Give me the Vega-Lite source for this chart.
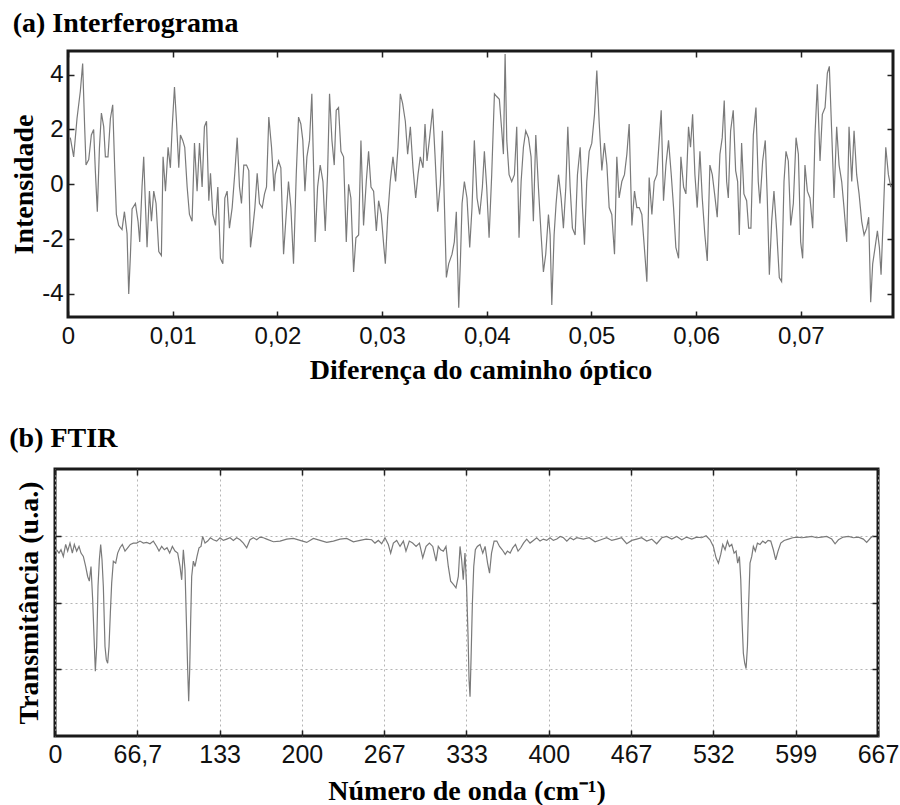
{
  "$schema": "https://vega.github.io/schema/vega-lite/v6.json",
  "background": "white",
  "padding": {"left": 7, "top": 9, "right": 0, "bottom": 0},
  "spacing": 39,
  "config": {
    "view": {"stroke": "#1a1a1a", "strokeWidth": 3},
    "axis": {
      "domain": false, "grid": false, "minExtent": 0, "labelFlush": false,
      "labelFont": "Liberation Sans", "labelFontSize": 24, "labelColor": "#111",
      "titleFont": "Liberation Serif", "titleFontSize": 28, "titleFontWeight": "bold", "titleColor": "#000",
      "tickColor": "#222", "tickWidth": 1.5
    },
    "title": {"font": "Liberation Serif", "fontSize": 28, "fontWeight": "bold", "color": "#000", "anchor": "start", "frame": "bounds"}
  },
  "vconcat": [
    {
      "width": 838, "height": 266,
      "view": {"stroke": null},
      "title": {"text": "(a) Interferograma", "offset": 12, "dx": 2},
      "data": {"values": [
        {"x":0.00022,"y":1.7},{"x":0.00054,"y":1.0},{"x":0.00086,"y":2.4},{"x":0.00118,"y":3.4},{"x":0.00140,"y":4.4},{"x":0.00159,"y":2.1},{"x":0.00172,"y":0.7},{"x":0.00198,"y":0.9},{"x":0.00223,"y":1.8},{"x":0.00245,"y":2.0},{"x":0.00261,"y":0.5},{"x":0.00280,"y":-1.0},{"x":0.00300,"y":1.3},{"x":0.00319,"y":2.6},{"x":0.00341,"y":2.1},{"x":0.00357,"y":1.0},{"x":0.00382,"y":1.0},{"x":0.00405,"y":2.4},{"x":0.00427,"y":2.9},{"x":0.00446,"y":0.6},{"x":0.00462,"y":-1.1},{"x":0.00484,"y":-1.5},{"x":0.00516,"y":-1.65},{"x":0.00539,"y":-1.0},{"x":0.00564,"y":-1.8},{"x":0.00580,"y":-4.0},{"x":0.00596,"y":-2.6},{"x":0.00612,"y":-0.9},{"x":0.00644,"y":-0.7},{"x":0.00669,"y":-1.35},{"x":0.00685,"y":-2.1},{"x":0.00707,"y":-0.1},{"x":0.00723,"y":1.0},{"x":0.00739,"y":-0.7},{"x":0.00755,"y":-2.3},{"x":0.00778,"y":-0.25},{"x":0.00797,"y":-1.35},{"x":0.00819,"y":-0.25},{"x":0.00841,"y":-0.7},{"x":0.00867,"y":-2.45},{"x":0.00892,"y":-2.6},{"x":0.00908,"y":1.0},{"x":0.00931,"y":-0.25},{"x":0.00956,"y":1.35},{"x":0.00978,"y":0.6},{"x":0.00994,"y":2.0},{"x":0.01017,"y":3.55},{"x":0.01036,"y":2.3},{"x":0.01058,"y":0.6},{"x":0.01074,"y":1.8},{"x":0.01096,"y":1.6},{"x":0.01115,"y":1.35},{"x":0.01138,"y":-0.1},{"x":0.01160,"y":-1.1},{"x":0.01185,"y":-1.35},{"x":0.01208,"y":1.5},{"x":0.01233,"y":-0.25},{"x":0.01256,"y":1.5},{"x":0.01281,"y":-0.1},{"x":0.01303,"y":2.1},{"x":0.01323,"y":2.3},{"x":0.01345,"y":-0.6},{"x":0.01361,"y":0.4},{"x":0.01383,"y":-1.1},{"x":0.01409,"y":-1.5},{"x":0.01431,"y":-0.1},{"x":0.01456,"y":-2.7},{"x":0.01479,"y":-2.9},{"x":0.01498,"y":-0.5},{"x":0.01520,"y":-0.25},{"x":0.01542,"y":-1.6},{"x":0.01568,"y":-0.85},{"x":0.01593,"y":0.4},{"x":0.01616,"y":1.7},{"x":0.01638,"y":-0.1},{"x":0.01657,"y":-0.7},{"x":0.01679,"y":0.7},{"x":0.01705,"y":0.7},{"x":0.01727,"y":0.5},{"x":0.01743,"y":-2.3},{"x":0.01765,"y":-1.6},{"x":0.01785,"y":-0.85},{"x":0.01807,"y":0.4},{"x":0.01829,"y":-0.7},{"x":0.01855,"y":-0.85},{"x":0.01877,"y":-0.35},{"x":0.01896,"y":-0.1},{"x":0.01918,"y":2.45},{"x":0.01944,"y":1.35},{"x":0.01969,"y":-0.25},
        {"x":0.01979,"y":0.35},{"x":0.02011,"y":0.85},{"x":0.02033,"y":0.6},{"x":0.02059,"y":-2.55},{"x":0.02084,"y":-1.1},{"x":0.02106,"y":0.1},{"x":0.02129,"y":-0.85},{"x":0.02154,"y":-2.9},{"x":0.02180,"y":0.35},{"x":0.02202,"y":2.45},{"x":0.02224,"y":2.2},{"x":0.02243,"y":1.6},{"x":0.02263,"y":-0.25},{"x":0.02282,"y":1.0},{"x":0.02307,"y":1.6},{"x":0.02329,"y":3.3},{"x":0.02345,"y":0.7},{"x":0.02361,"y":-2.1},{"x":0.02384,"y":-0.1},{"x":0.02409,"y":0.7},{"x":0.02435,"y":0.1},{"x":0.02457,"y":-1.7},{"x":0.02479,"y":0.35},{"x":0.02498,"y":3.3},{"x":0.02521,"y":1.6},{"x":0.02543,"y":0.7},{"x":0.02562,"y":2.7},{"x":0.02584,"y":2.8},{"x":0.02607,"y":1.2},{"x":0.02632,"y":1.0},{"x":0.02658,"y":-2.1},{"x":0.02680,"y":0.0},{"x":0.02702,"y":-0.5},{"x":0.02728,"y":-3.2},{"x":0.02750,"y":-1.95},{"x":0.02776,"y":-1.85},{"x":0.02798,"y":1.6},{"x":0.02823,"y":-1.5},{"x":0.02849,"y":0.1},{"x":0.02871,"y":1.2},{"x":0.02894,"y":-0.1},{"x":0.02919,"y":-0.25},{"x":0.02945,"y":-1.7},{"x":0.02967,"y":-0.6},{"x":0.02992,"y":-1.1},{"x":0.03015,"y":-2.2},{"x":0.03031,"y":-2.9},{"x":0.03053,"y":-1.2},{"x":0.03078,"y":0.1},{"x":0.03104,"y":1.0},{"x":0.03129,"y":0.1},{"x":0.03152,"y":1.35},{"x":0.03174,"y":3.3},{"x":0.03196,"y":2.95},{"x":0.03222,"y":2.3},{"x":0.03244,"y":1.1},{"x":0.03270,"y":2.1},{"x":0.03295,"y":0.6},{"x":0.03321,"y":-0.5},{"x":0.03343,"y":0.35},{"x":0.03365,"y":1.0},{"x":0.03391,"y":0.6},{"x":0.03410,"y":2.2},{"x":0.03429,"y":0.85},{"x":0.03454,"y":1.7},{"x":0.03483,"y":2.75},{"x":0.03505,"y":1.1},{"x":0.03531,"y":-1.0},{"x":0.03556,"y":0.0},{"x":0.03576,"y":1.95},{"x":0.03595,"y":-0.7},{"x":0.03614,"y":-3.4},{"x":0.03636,"y":-2.9},{"x":0.03668,"y":-2.55},{"x":0.03690,"y":-2.1},{"x":0.03709,"y":-1.0},{"x":0.03732,"y":-4.5},{"x":0.03748,"y":-2.8},{"x":0.03764,"y":-0.7},{"x":0.03786,"y":0.1},{"x":0.03811,"y":-0.5},{"x":0.03837,"y":-2.3},{"x":0.03859,"y":-0.85},{"x":0.03881,"y":1.6},{"x":0.03907,"y":-0.5},{"x":0.03932,"y":-1.1},{"x":0.03958,"y":-0.1},
        {"x":0.03977,"y":1.2},{"x":0.03999,"y":-0.1},{"x":0.04022,"y":-1.95},{"x":0.04047,"y":0.35},{"x":0.04073,"y":3.3},{"x":0.04095,"y":3.2},{"x":0.04120,"y":3.1},{"x":0.04143,"y":1.95},{"x":0.04159,"y":1.1},{"x":0.04175,"y":4.75},{"x":0.04191,"y":1.6},{"x":0.04213,"y":0.35},{"x":0.04238,"y":0.1},{"x":0.04264,"y":0.35},{"x":0.04286,"y":2.1},{"x":0.04308,"y":-1.95},{"x":0.04328,"y":0.1},{"x":0.04350,"y":1.35},{"x":0.04372,"y":1.95},{"x":0.04398,"y":1.7},{"x":0.04423,"y":1.0},{"x":0.04445,"y":-1.35},{"x":0.04468,"y":1.8},{"x":0.04493,"y":-0.1},{"x":0.04519,"y":-1.85},{"x":0.04541,"y":-3.2},{"x":0.04563,"y":-2.55},{"x":0.04589,"y":-1.1},{"x":0.04605,"y":-1.85},{"x":0.04621,"y":-4.4},{"x":0.04643,"y":-1.85},{"x":0.04662,"y":-0.7},{"x":0.04685,"y":0.35},{"x":0.04710,"y":-0.5},{"x":0.04732,"y":-1.6},{"x":0.04755,"y":-0.1},{"x":0.04774,"y":2.1},{"x":0.04796,"y":-0.1},{"x":0.04818,"y":-1.6},{"x":0.04844,"y":-1.85},{"x":0.04866,"y":0.35},{"x":0.04892,"y":1.35},{"x":0.04914,"y":-0.85},{"x":0.04933,"y":-2.2},{"x":0.04955,"y":0.1},{"x":0.04978,"y":1.2},{"x":0.05003,"y":1.5},{"x":0.05029,"y":2.55},{"x":0.05051,"y":4.15},{"x":0.05073,"y":2.3},{"x":0.05099,"y":0.5},{"x":0.05124,"y":1.5},{"x":0.05147,"y":0.7},{"x":0.05169,"y":-0.85},{"x":0.05194,"y":-1.1},{"x":0.05220,"y":-2.55},{"x":0.05242,"y":1.0},{"x":0.05264,"y":-0.5},{"x":0.05290,"y":0.1},{"x":0.05315,"y":0.35},{"x":0.05338,"y":1.1},{"x":0.05360,"y":2.2},{"x":0.05386,"y":-1.5},{"x":0.05411,"y":-0.25},{"x":0.05433,"y":-0.85},{"x":0.05456,"y":-0.85},{"x":0.05481,"y":-1.1},{"x":0.05503,"y":-2.2},{"x":0.05529,"y":-3.55},{"x":0.05551,"y":0.25},{"x":0.05577,"y":-1.1},{"x":0.05599,"y":0.1},{"x":0.05625,"y":0.35},{"x":0.05647,"y":1.6},{"x":0.05666,"y":2.7},{"x":0.05688,"y":-0.6},{"x":0.05711,"y":0.7},{"x":0.05736,"y":1.6},{"x":0.05762,"y":0.35},{"x":0.05784,"y":-0.85},{"x":0.05806,"y":-2.3},{"x":0.05832,"y":-2.7},{"x":0.05854,"y":1.0},{"x":0.05880,"y":-0.1},{"x":0.05902,"y":-0.35},{"x":0.05927,"y":2.1},{"x":0.05946,"y":1.35},
        {"x":0.05966,"y":2.55},{"x":0.05988,"y":0.35},{"x":0.06010,"y":-0.85},{"x":0.06036,"y":1.2},{"x":0.06058,"y":-0.5},{"x":0.06083,"y":-1.85},{"x":0.06106,"y":-2.8},{"x":0.06131,"y":0.7},{"x":0.06154,"y":0.35},{"x":0.06176,"y":-0.35},{"x":0.06201,"y":-1.2},{"x":0.06227,"y":1.1},{"x":0.06249,"y":1.7},{"x":0.06268,"y":3.05},{"x":0.06291,"y":0.1},{"x":0.06307,"y":-0.5},{"x":0.06329,"y":1.95},{"x":0.06354,"y":2.7},{"x":0.06377,"y":0.5},{"x":0.06396,"y":0.1},{"x":0.06412,"y":-1.85},{"x":0.06434,"y":1.5},{"x":0.06456,"y":-0.35},{"x":0.06482,"y":-0.6},{"x":0.06501,"y":-1.6},{"x":0.06523,"y":-1.6},{"x":0.06546,"y":1.8},{"x":0.06571,"y":2.8},{"x":0.06593,"y":0.1},{"x":0.06609,"y":-0.7},{"x":0.06635,"y":0.85},{"x":0.06660,"y":1.6},{"x":0.06679,"y":-0.5},{"x":0.06699,"y":-3.3},{"x":0.06721,"y":-1.35},{"x":0.06743,"y":-0.25},{"x":0.06769,"y":-1.7},{"x":0.06794,"y":-3.4},{"x":0.06816,"y":-3.55},{"x":0.06839,"y":0.1},{"x":0.06858,"y":1.2},{"x":0.06880,"y":0.85},{"x":0.06903,"y":-1.5},{"x":0.06928,"y":-0.7},{"x":0.06954,"y":1.7},{"x":0.06976,"y":1.1},{"x":0.06998,"y":-2.1},{"x":0.07017,"y":-2.7},{"x":0.07039,"y":0.7},{"x":0.07062,"y":-0.25},{"x":0.07087,"y":-0.5},{"x":0.07113,"y":-1.6},{"x":0.07135,"y":1.8},{"x":0.07157,"y":3.65},{"x":0.07183,"y":0.85},{"x":0.07205,"y":2.55},{"x":0.07231,"y":2.8},{"x":0.07253,"y":4.05},{"x":0.07272,"y":4.3},{"x":0.07294,"y":1.95},{"x":0.07317,"y":-0.5},{"x":0.07342,"y":2.1},{"x":0.07365,"y":0.7},{"x":0.07390,"y":0.1},{"x":0.07412,"y":-0.85},{"x":0.07438,"y":-2.1},{"x":0.07460,"y":2.1},{"x":0.07486,"y":0.1},{"x":0.07508,"y":1.95},{"x":0.07533,"y":0.35},{"x":0.07556,"y":-0.35},{"x":0.07581,"y":-1.35},{"x":0.07604,"y":-1.85},{"x":0.07629,"y":-1.6},{"x":0.07648,"y":-1.2},{"x":0.07667,"y":-4.3},{"x":0.07686,"y":-2.9},{"x":0.07709,"y":-2.3},{"x":0.07731,"y":-1.7},{"x":0.07750,"y":-2.3},{"x":0.07766,"y":-3.3},{"x":0.07788,"y":-1.1},{"x":0.07811,"y":1.35},{"x":0.07836,"y":0.35},{"x":0.07859,"y":-0.1}
      ]},
      "layer": [
        {
          "mark": {"type": "line", "color": "#7a7a7a", "strokeWidth": 1.2, "clip": true},
          "encoding": {
            "x": {"field": "x", "type": "quantitative",
              "scale": {"domain": [-0.001242, 0.0788], "nice": false, "zero": false},
              "axis": {"title": "Diferença do caminho óptico", "values": [0, 0.01, 0.02, 0.03, 0.04, 0.05, 0.06, 0.07],
                "labelExpr": "datum.value == 0 ? '0' : replace(format(datum.value, '.2f'), '.', ',')",
                "tickSize": -6, "labelPadding": 13, "titlePadding": 8, "titleX": 425.5}},
            "y": {"field": "y", "type": "quantitative",
              "scale": {"domain": [-4.84, 4.86], "nice": false, "zero": false},
              "axis": {"title": "Intensidade", "values": [-4, -2, 0, 2, 4], "labelExpr": "'' + datum.value",
                "offset": -13, "tickSize": -6, "labelPadding": 11, "titlePadding": 3}}
          }
        },
        {
          "data": {"values": [{}]},
          "mark": {"type": "rect", "fill": null, "stroke": "#1a1a1a", "strokeWidth": 3},
          "encoding": {
            "x": {"datum": 0, "type": "quantitative", "axis": null},
            "x2": {"datum": 0.0788},
            "y": {"datum": -4.84, "type": "quantitative", "axis": null},
            "y2": {"datum": 4.86}
          }
        },
        {
          "mark": {"type": "line", "opacity": 0},
          "encoding": {
            "x": {"field": "x", "type": "quantitative",
              "axis": {"orient": "top", "title": null, "labels": false, "values": [0, 0.01, 0.02, 0.03, 0.04, 0.05, 0.06, 0.07], "tickSize": -6}},
            "y": {"field": "y", "type": "quantitative",
              "axis": {"orient": "right", "title": null, "labels": false, "values": [-4, -2, 0, 2, 4], "tickSize": -6}}
          }
        }
      ],
      "resolve": {"axis": {"x": "independent", "y": "independent"}}
    },
    {
      "width": 823, "height": 267,
      "title": {"text": "(b) FTIR", "offset": 15, "dx": -6},
      "data": {"values": [
        {"x":1.35,"y":2.79},{"x":3.24,"y":2.74},{"x":4.86,"y":2.79},{"x":6.75,"y":2.69},{"x":8.64,"y":2.87},{"x":10.26,"y":2.77},{"x":12.15,"y":2.89},{"x":14.04,"y":2.74},{"x":15.66,"y":2.87},{"x":17.55,"y":2.77},{"x":19.44,"y":2.84},{"x":21.06,"y":2.74},{"x":22.95,"y":2.69},{"x":24.84,"y":2.54},{"x":26.46,"y":2.39},{"x":27.81,"y":2.32},{"x":29.17,"y":2.54},{"x":30.52,"y":2.04},{"x":31.6,"y":1.49},{"x":32.68,"y":0.97},{"x":33.76,"y":1.34},{"x":34.84,"y":2.24},{"x":35.92,"y":2.64},{"x":37.0,"y":2.87},{"x":38.08,"y":2.64},{"x":39.16,"y":2.24},{"x":40.51,"y":1.34},{"x":41.59,"y":1.14},{"x":42.67,"y":1.09},{"x":43.75,"y":1.34},{"x":44.83,"y":1.84},{"x":45.91,"y":2.29},{"x":47.26,"y":2.62},{"x":49.15,"y":2.59},{"x":50.77,"y":2.74},{"x":52.66,"y":2.82},{"x":54.55,"y":2.87},{"x":56.71,"y":2.77},{"x":58.87,"y":2.82},{"x":61.03,"y":2.87},{"x":63.46,"y":2.89},{"x":66.16,"y":2.89},{"x":68.86,"y":2.92},{"x":71.56,"y":2.89},{"x":74.26,"y":2.9},{"x":76.96,"y":2.88},{"x":79.66,"y":2.92},{"x":82.37,"y":2.84},{"x":84.26,"y":2.77},{"x":86.42,"y":2.84},{"x":88.58,"y":2.79},{"x":90.74,"y":2.82},{"x":92.9,"y":2.74},{"x":95.06,"y":2.84},{"x":97.22,"y":2.77},{"x":99.38,"y":2.74},{"x":101.27,"y":2.54},{"x":102.62,"y":2.34},{"x":103.97,"y":2.79},{"x":105.32,"y":2.49},{"x":106.4,"y":1.74},{"x":107.48,"y":0.99},{"x":108.29,"y":0.52},{"x":109.1,"y":0.99},{"x":109.91,"y":1.74},{"x":110.72,"y":2.39},{"x":112.07,"y":2.62},{"x":113.42,"y":2.54},{"x":115.04,"y":2.69},{"x":116.66,"y":2.82},{"x":118.28,"y":2.84},{"x":119.63,"y":2.99},{"x":121.52,"y":2.89},{"x":123.68,"y":2.92},{"x":125.84,"y":2.97},{"x":128.27,"y":2.94},{"x":130.97,"y":2.92},{"x":133.68,"y":2.97},{"x":136.38,"y":2.93},{"x":139.08,"y":2.95},{"x":141.78,"y":2.97},{"x":144.48,"y":2.93},{"x":147.18,"y":2.97},{"x":149.88,"y":2.94},{"x":152.58,"y":2.89},{"x":155.28,"y":2.82},{"x":157.98,"y":2.94},{"x":160.68,"y":2.97},{"x":163.38,"y":2.94},{"x":166.08,"y":2.98},{"x":168.78,"y":2.97},
        {"x":171.5,"y":2.95},{"x":176.9,"y":2.91},{"x":182.3,"y":2.92},{"x":187.7,"y":2.95},{"x":193.1,"y":2.96},{"x":198.5,"y":2.93},{"x":203.9,"y":2.9},{"x":209.3,"y":2.96},{"x":214.7,"y":2.93},{"x":220.1,"y":2.9},{"x":225.5,"y":2.92},{"x":230.9,"y":2.95},{"x":236.3,"y":2.96},{"x":241.7,"y":2.91},{"x":247.1,"y":2.93},{"x":252.0,"y":2.95},
        {"x":256.5,"y":2.94},{"x":259.2,"y":2.89},{"x":261.9,"y":2.93},{"x":264.6,"y":2.88},{"x":267.3,"y":2.97},{"x":270.0,"y":2.87},{"x":271.9,"y":2.74},{"x":274.1,"y":2.89},{"x":276.8,"y":2.93},{"x":279.5,"y":2.84},{"x":282.2,"y":2.92},{"x":284.3,"y":2.77},{"x":287.0,"y":2.92},{"x":289.7,"y":2.89},{"x":292.5,"y":2.84},{"x":295.2,"y":2.89},{"x":297.9,"y":2.67},{"x":300.6,"y":2.84},{"x":303.3,"y":2.89},{"x":306.0,"y":2.84},{"x":308.7,"y":2.62},{"x":310.5,"y":2.84},{"x":312.4,"y":2.79},{"x":314.6,"y":2.77},{"x":316.7,"y":2.84},{"x":318.6,"y":2.54},{"x":320.5,"y":2.32},{"x":322.7,"y":2.27},{"x":324.8,"y":2.22},{"x":326.7,"y":2.39},{"x":328.1,"y":2.84},{"x":329.4,"y":2.64},{"x":330.7,"y":2.34},{"x":332.1,"y":2.74},{"x":333.4,"y":2.24},{"x":334.6,"y":1.49},{"x":335.4,"y":0.84},{"x":336.2,"y":0.59},{"x":337.0,"y":1.14},{"x":338.1,"y":1.99},{"x":339.2,"y":2.54},{"x":340.5,"y":2.79},{"x":342.1,"y":2.84},{"x":344.3,"y":2.87},{"x":346.5,"y":2.74},{"x":348.4,"y":2.84},{"x":350.4,"y":2.59},{"x":352.0,"y":2.44},{"x":353.6,"y":2.74},{"x":355.7,"y":2.92},{"x":357.9,"y":2.92},{"x":360.1,"y":2.84},{"x":362.3,"y":2.79},{"x":364.7,"y":2.72},{"x":366.5,"y":2.77},{"x":368.7,"y":2.74},{"x":370.8,"y":2.82},{"x":373.0,"y":2.87},{"x":375.1,"y":2.77},{"x":377.3,"y":2.82},{"x":379.5,"y":2.89},{"x":382.1,"y":2.95},{"x":384.8,"y":2.89},{"x":387.5,"y":2.93},{"x":390.2,"y":2.97},{"x":392.9,"y":2.92},{"x":395.6,"y":2.95},{"x":398.3,"y":2.93},{"x":401.0,"y":2.97},{"x":403.7,"y":2.93},{"x":406.5,"y":2.95},{"x":409.2,"y":2.99},{"x":411.9,"y":2.97},{"x":414.6,"y":2.92},{"x":417.3,"y":2.97},{"x":420.0,"y":2.94},{"x":422.7,"y":2.97},
        {"x":428.0,"y":2.95},{"x":432.7,"y":2.97},{"x":437.5,"y":2.91},{"x":442.2,"y":2.94},{"x":446.9,"y":2.97},{"x":451.0,"y":2.93},{"x":455.0,"y":2.95},{"x":459.0,"y":2.97},{"x":463.1,"y":2.88},{"x":467.2,"y":2.93},{"x":471.2,"y":2.95},{"x":475.2,"y":2.97},{"x":479.3,"y":2.92},{"x":483.4,"y":2.95},{"x":487.4,"y":2.88},
        {"x":491.5,"y":2.97},{"x":495.5,"y":2.99},{"x":499.6,"y":2.95},{"x":503.6,"y":2.99},{"x":507.7,"y":2.94},{"x":511.7,"y":2.98},{"x":515.8,"y":2.95},{"x":519.8,"y":2.98},{"x":523.9,"y":2.97},{"x":527.4,"y":3.0},{"x":530.6,"y":2.94},{"x":533.3,"y":2.84},{"x":535.5,"y":2.67},{"x":537.4,"y":2.59},{"x":539.3,"y":2.72},{"x":540.9,"y":2.87},{"x":542.8,"y":2.79},{"x":544.7,"y":2.92},{"x":546.3,"y":2.84},{"x":548.2,"y":2.87},{"x":550.1,"y":2.74},{"x":551.7,"y":2.77},{"x":553.0,"y":2.59},{"x":554.4,"y":2.69},{"x":555.5,"y":2.34},{"x":556.5,"y":1.74},{"x":557.6,"y":1.24},{"x":558.7,"y":1.09},{"x":559.8,"y":1.01},{"x":560.9,"y":1.34},{"x":561.9,"y":1.99},{"x":563.0,"y":2.59},{"x":564.4,"y":2.69},{"x":565.7,"y":2.84},{"x":567.3,"y":2.77},{"x":569.0,"y":2.89},{"x":571.1,"y":2.87},{"x":573.3,"y":2.92},{"x":575.4,"y":2.89},{"x":577.6,"y":2.93},{"x":579.8,"y":2.92},{"x":581.9,"y":2.79},{"x":583.8,"y":2.64},{"x":585.7,"y":2.77},{"x":587.9,"y":2.89},{"x":590.6,"y":2.93},{"x":594.1,"y":2.95},{"x":597.6,"y":2.97},{"x":601.4,"y":2.98},{"x":604.9,"y":2.97},{"x":608.9,"y":2.98},{"x":613.0,"y":2.99},{"x":617.0,"y":2.97},{"x":621.1,"y":2.98},{"x":625.1,"y":2.99},{"x":629.2,"y":2.95},{"x":631.9,"y":2.88},{"x":634.6,"y":2.94},{"x":638.6,"y":2.98},{"x":642.7,"y":2.99},{"x":646.7,"y":2.97},{"x":650.8,"y":2.98},{"x":654.8,"y":2.95},{"x":657.5,"y":2.9},{"x":660.8,"y":2.97},{"x":662.9,"y":3.0}
      ]},
      "layer": [
        {
          "mark": {"type": "line", "color": "#7a7a7a", "strokeWidth": 1.2, "clip": true},
          "encoding": {
            "x": {"field": "x", "type": "quantitative",
              "scale": {"domain": [0, 666.67], "nice": false, "zero": false},
              "axis": {"title": "Número de onda (cm⁻¹)", "values": [0, 66.67, 133.33, 200, 266.67, 333.33, 400, 466.67, 533.33, 600, 666.67],
                "labelExpr": "datum.value < 1 ? '0' : datum.value < 70 ? '66,7' : (datum.value > 530 && datum.value < 540) ? '532' : (datum.value > 595 && datum.value < 605) ? '599' : format(datum.value, '.0f')",
                "labelFontSize": 25, "tickSize": -6, "labelPadding": 12, "titlePadding": 10,
                "grid": true, "gridColor": "#b5b5b5", "gridDash": [2, 3], "gridWidth": 1}},
            "y": {"field": "y", "type": "quantitative",
              "scale": {"domain": [0, 4], "nice": false, "zero": false},
              "axis": {"title": "Transmitância (u.a.)", "values": [1, 2, 3], "labels": false, "tickSize": -6, "titlePadding": 11,
                "grid": true, "gridColor": "#b5b5b5", "gridDash": [2, 3], "gridWidth": 1}}
          }
        },
        {
          "mark": {"type": "line", "opacity": 0},
          "encoding": {
            "x": {"field": "x", "type": "quantitative",
              "axis": {"orient": "top", "title": null, "labels": false, "values": [0, 66.67, 133.33, 200, 266.67, 333.33, 400, 466.67, 533.33, 600, 666.67], "tickSize": -6}},
            "y": {"field": "y", "type": "quantitative",
              "axis": {"orient": "right", "title": null, "labels": false, "values": [1, 2, 3], "tickSize": -6}}
          }
        }
      ],
      "resolve": {"axis": {"x": "independent", "y": "independent"}}
    }
  ]
}
